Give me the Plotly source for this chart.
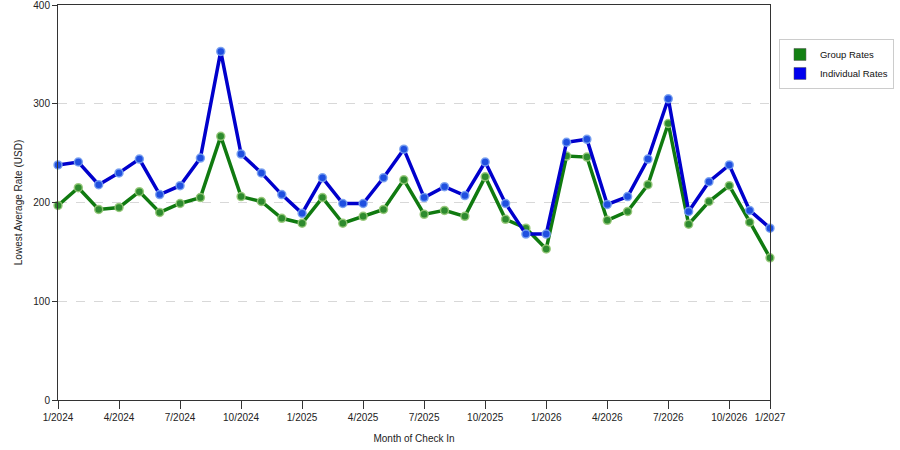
import plotly.graph_objects as go

# Month of check in, 1/2024 .. 12/2026
months = [f"{m}/{y}" for y in (2024, 2025, 2026) for m in range(1, 13)]

group_rates = [197, 215, 193, 195, 211, 190, 199, 205, 267, 206, 201, 184,
               179, 205, 179, 186, 193, 223, 188, 192, 186, 226, 183, 174,
               153, 247, 246, 182, 191, 218, 280, 178, 201, 217, 180, 144]

individual_rates = [238, 241, 218, 230, 244, 208, 217, 245, 353, 249, 230, 208,
                    189, 225, 199, 199, 225, 254, 205, 216, 207, 241, 199, 168,
                    168, 261, 264, 198, 206, 244, 305, 191, 221, 238, 192, 174]

tick_vals = months[::3] + [months[-1]]
tick_text = months[::3] + ["1/2027"]
y_ticks = [0, 100, 200, 300, 400]

fig = go.Figure()

series = [
    ("Group Rates", group_rates, "#107a10", "#2e8b2e", "rgba(150,200,120,0.9)", "#138013"),
    ("Individual Rates", individual_rates, "#0000cc", "#1f4fe0", "rgba(120,160,240,0.9)", "#0000ee"),
]

for name, vals, line_col, mk_col, mk_edge, swatch in series:
    fig.add_trace(go.Scatter(
        x=months, y=vals, mode="lines+markers", name=name, showlegend=False,
        line=dict(color=line_col, width=3.5),
        marker=dict(size=8, color=mk_col, line=dict(color=mk_edge, width=1.5)),
        cliponaxis=False,
    ))
    # legend-only swatch
    fig.add_trace(go.Scatter(
        x=[None], y=[None], mode="markers", name=name,
        marker=dict(symbol="square", size=12, color=swatch,
                    line=dict(color="#555555", width=0.5)),
    ))

fig.update_layout(
    width=900, height=450,
    margin=dict(l=58, r=130, t=5, b=50, autoexpand=False),
    paper_bgcolor="white", plot_bgcolor="white",
    font=dict(family="Liberation Sans, Arial, sans-serif", size=10, color="#222222"),
    legend=dict(x=1.0126, y=0.914, xanchor="left", yanchor="top",
                bordercolor="#cccccc", borderwidth=1, bgcolor="white",
                font=dict(size=9.5, color="#111111"), itemsizing="trace",
                itemwidth=30, tracegroupgap=1),
)

fig.update_xaxes(
    type="category", range=[0, len(months) - 1], automargin=False,
    tickmode="array", tickvals=tick_vals, ticktext=tick_text,
    ticks="outside", ticklen=8, tickcolor="#333333",
    showline=True, linecolor="#333333", linewidth=1, mirror=True,
    showgrid=False, zeroline=False, ticklabeloverflow="allow",
    title=dict(text="Month of Check In", standoff=12, font=dict(size=10)),
    tickfont=dict(size=10),
)

fig.update_yaxes(
    range=[0, 400], tickmode="array", tickvals=y_ticks, automargin=False,
    ticks="outside", ticklen=5, tickcolor="#333333",
    showline=True, linecolor="#333333", linewidth=1, mirror=True,
    showgrid=True, gridcolor="#d8d8d8", griddash="dash", gridwidth=1,
    zeroline=False, ticklabeloverflow="allow",
    title=dict(text="Lowest Average Rate (USD)", standoff=8, font=dict(size=10)),
    tickfont=dict(size=10),
)

fig.write_html("out.html", config={"displayModeBar": False},
               post_script="document.body.style.margin='0';")
